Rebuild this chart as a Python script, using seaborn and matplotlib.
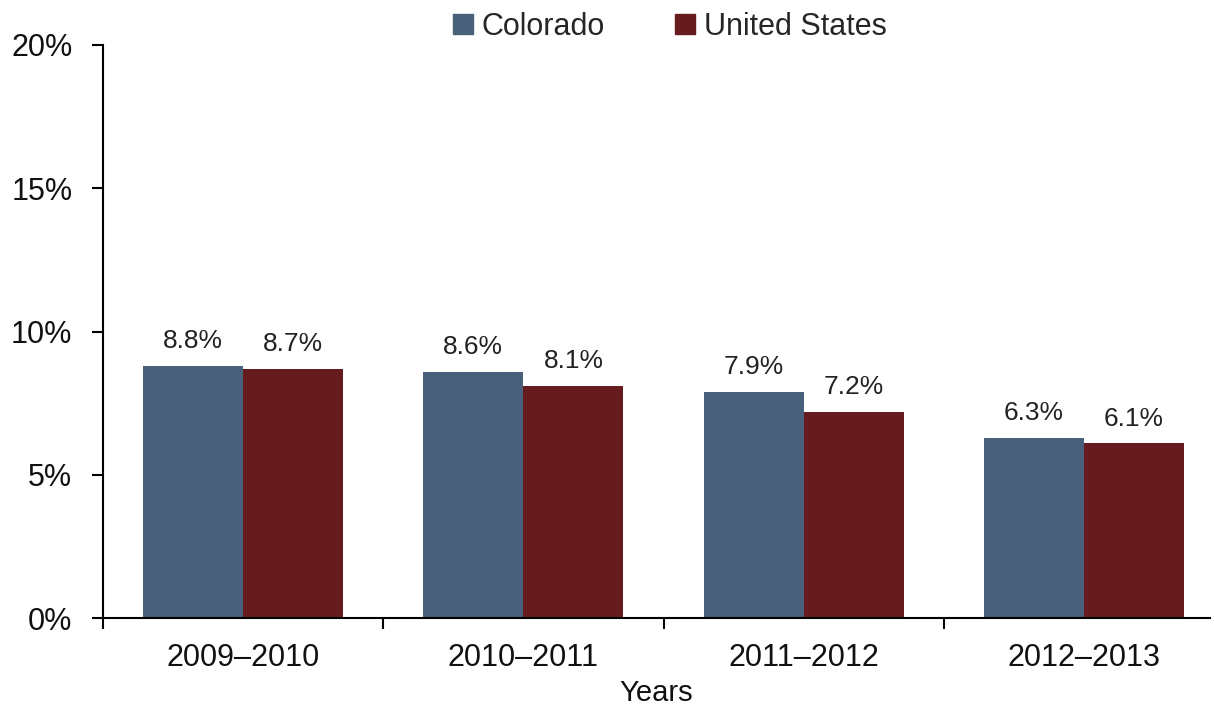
import pandas as pd
import matplotlib.pyplot as plt
import seaborn as sns
from matplotlib.ticker import FuncFormatter, FixedLocator

# data
years = ["2009\u20132010", "2010\u20132011", "2011\u20132012", "2012\u20132013"]
colorado = [8.8, 8.6, 7.9, 6.3]
united_states = [8.7, 8.1, 7.2, 6.1]
regions = ["Colorado", "United States"]
colors = ["#48607A", "#661B1E"]

df = pd.DataFrame({
    "Years": years * 2,
    "Rate": colorado + united_states,
    "Region": [regions[0]] * len(years) + [regions[1]] * len(years),
})

sns.set_style("white")
plt.rcParams["font.family"] = ["Liberation Sans", "DejaVu Sans"]

fig = plt.figure(figsize=(12.14, 7.07), dpi=100)
ax = fig.add_axes([103 / 1214, 89 / 707, (1210 - 103) / 1214, (618 - 45) / 707])

sns.barplot(data=df, x="Years", y="Rate", hue="Region", palette=colors,
            width=0.714, saturation=1, ax=ax, gap=0, linewidth=0)

for cont in ax.containers:
    ax.bar_label(cont, fmt="%.1f%%", padding=9, fontsize=19, color="#222222")

ax.set_ylim(0, 20)
ax.set_xlim(-0.5, 3.45)
ax.set_yticks([0, 5, 10, 15, 20])
ax.yaxis.set_major_formatter(FuncFormatter(lambda v, p: f"{v:.0f}%"))
ax.tick_params(axis="y", direction="out", length=8, width=1.5, pad=14,
               labelsize=22, left=True, color="black", labelcolor="#111111")
ax.tick_params(axis="x", which="major", length=0, pad=18, labelsize=22,
               labelcolor="#111111")
ax.xaxis.set_minor_locator(FixedLocator([-0.5, 0.5, 1.5, 2.5]))
ax.tick_params(axis="x", which="minor", direction="out", length=8, width=1.5,
               bottom=True, color="black")

for s in ["top", "right"]:
    ax.spines[s].set_visible(False)
for s in ["left", "bottom"]:
    ax.spines[s].set_color("black")
    ax.spines[s].set_linewidth(1.5)

ax.set_xlabel("Years", fontsize=21, color="#111111", labelpad=4)
ax.set_ylabel("")

ax.legend_.remove()
handles = [plt.Rectangle((0, 0), 1, 1, color=c) for c in colors]
fig.legend(handles, regions, loc="upper center", bbox_to_anchor=(0.552, 1.022),
           ncol=2, frameon=False, fontsize=22, handlelength=0.65,
           handleheight=0.65, handletextpad=0.3, columnspacing=2.3)

fig.savefig("out.png", dpi=100)
